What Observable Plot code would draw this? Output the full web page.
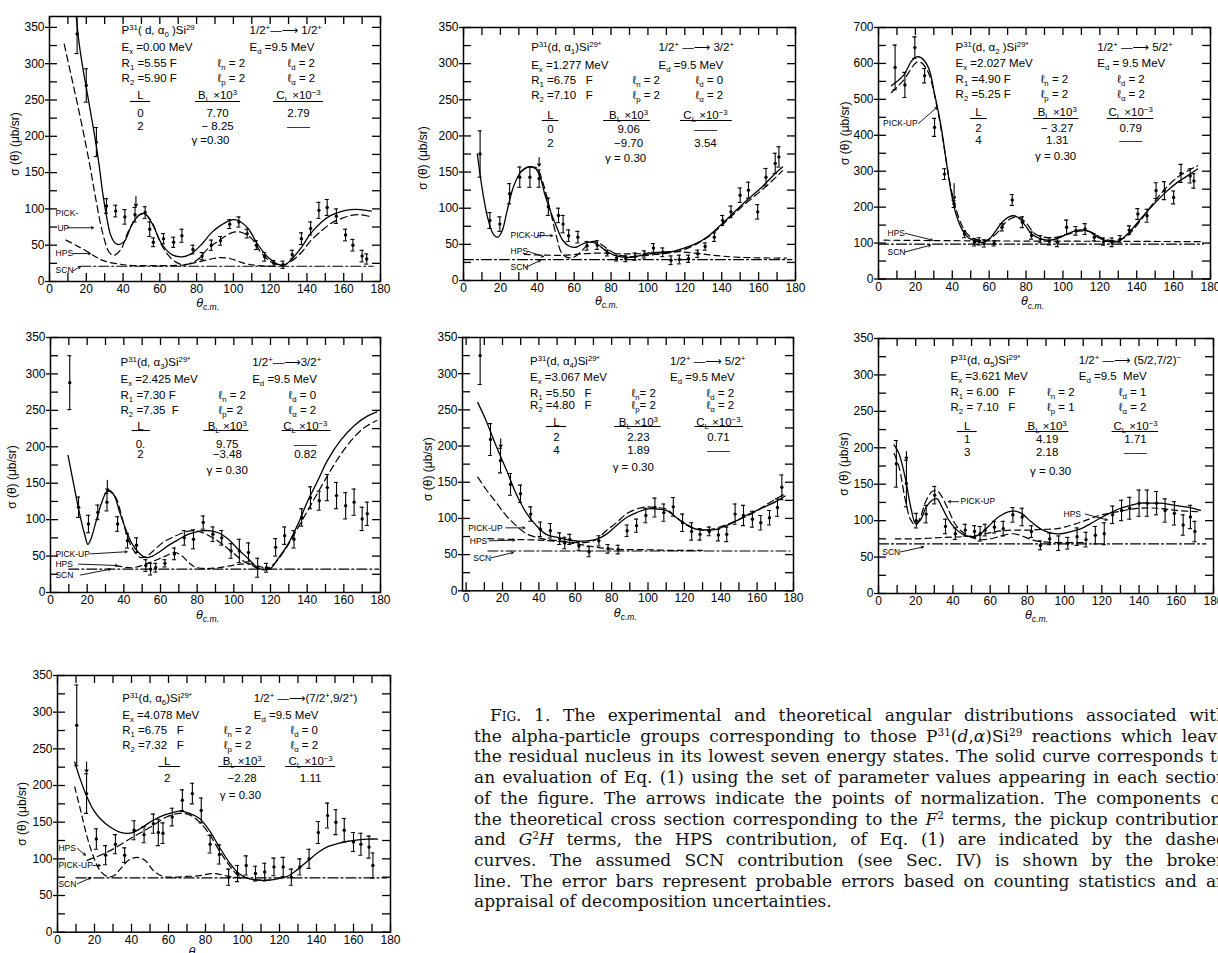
<!DOCTYPE html>
<html><head><meta charset="utf-8">
<script src="https://cdn.jsdelivr.net/npm/d3@7"></script>
<script src="https://cdn.jsdelivr.net/npm/@observablehq/plot@0.6"></script>
<style>
html,body{margin:0;padding:0;background:#fff;}
#page{position:relative;width:1218px;height:953px;overflow:hidden;background:#fff;}
#caption{position:absolute;left:474px;top:705px;width:753px;font-family:"DejaVu Serif",serif;font-size:17px;line-height:20.7px;color:#111;}
#caption div{white-space:nowrap;text-align:justify;text-align-last:justify;}
#caption div.last{text-align-last:left;}
#caption sup{font-size:0.62em;line-height:0;vertical-align:0.55em;}
#caption .sc{font-variant:small-caps;}
</style></head><body>
<div id="page">
<div id="caption">
<div style="text-indent:16px"><span class="sc">Fig.</span> 1. The experimental and theoretical angular distributions associated with</div>
<div>the alpha-particle groups corresponding to those P<sup>31</sup>(<i>d</i>,<i>α</i>)Si<sup>29</sup> reactions which leave</div>
<div>the residual nucleus in its lowest seven energy states. The solid curve corresponds to</div>
<div>an evaluation of Eq. (1) using the set of parameter values appearing in each section</div>
<div>of the figure. The arrows indicate the points of normalization. The components of</div>
<div>the theoretical cross section corresponding to the <i>F</i><sup>2</sup> terms, the pickup contribution,</div>
<div>and <i>G</i><sup>2</sup><i>H</i> terms, the HPS contribution, of Eq. (1) are indicated by the dashed</div>
<div>curves. The assumed SCN contribution (see Sec. IV) is shown by the broken</div>
<div>line. The error bars represent probable errors based on counting statistics and an</div>
<div class="last">appraisal of decomposition uncertainties.</div>
</div>
</div>
<script>
// ---------- tick values ----------
const xTicks = d3.range(0, 181, 10);
const xTickLabels = d3.range(0, 181, 20);

// ---------- panel 1 : alpha0 ----------
const p1Points = [[15,341,27],[20,270,23],[25.5,192,20],[31,104,10],[36,97,8],[41,89,10],[46.5,92,10],[52,95,8],[54.5,72,10],[56.5,54,6],[62,59,7],[67.5,54,7],[72,63,9],[78,44,6],[83,35,5],[88,50,7],[93,56,6],[98,79,6],[103,82,7],[107.5,66,6],[112.5,50,6],[117,34,6],[122,25,4],[127,23,5],[132,37,6],[137,59,8],[142,73,9],[146.5,98,11],[151,102,11],[156,90,10],[161,64,8],[165,50,8],[170,35,8],[172.5,31,7]];
const p1Solid = [[14,380],[16,330],[18,296],[20,267],[22,238],[25,194],[27,160],[29,121],[31,90],[33,66],[35,55],[37,51],[39,52],[41,56],[45,79],[49.5,93],[52,93],[56,79],[61,52],[66.5,37],[72,34],[77,38],[83,52],[88,67],[93.5,78],[99,85],[102.5,84],[108,73],[113,52],[119,33],[124,24],[128,23],[131,29],[137,47],[142,66],[148,82],[153,91],[158,96],[164,99],[169,99],[175,97]];
const p1Pickup = [[8,327],[12,281],[16,235],[21.5,166],[25,116],[29,66],[32.5,40],[35,36],[39,45],[43,70],[48.5,91],[52,93],[56,80],[61,50],[66.5,31],[71,24],[75.5,24],[81,31],[86,45],[92,56],[99,67],[104,68],[110,59],[115,40],[120.5,27],[126,22],[131,27],[137,40],[142,56],[148,70],[153,80],[158,86],[164,91],[169,92],[175,89]];
const p1Hps = [[9,57],[15,49],[20,42],[25,34],[30,28],[38,24],[45,22],[55,22],[65,22],[74,23],[81,27],[88,31],[93,33],[99,31],[106,25],[113,22],[122,21]];
const p1Scn = [[17,21],[176,21]];
const p1Norm = [[47,117,103]];
const p1Text = {title:"P^{31}( d, α_{0} )Si^{29}", trans:"1/2^{+}—⟶ 1/2^{+}", ex:"E_{x} =0.00 MeV", ed:"E_{d} =9.5 MeV", r1:"R_{1} =5.55 F", r2:"R_{2} =5.90 F", ln:"ℓ_{n} = 2", lp:"ℓ_{p} = 2", ld:"ℓ_{d} = 2", la:"ℓ_{α} = 2", L:["0","2"], B:["7.70","− 8.25"], C:["2.79","——"], g:"γ =0.30"};

// ---------- panel 2 : alpha1 ----------
const p2Points = [[9,175,32],[14.3,83,11],[19.7,78,10],[25,120,14],[30.5,143,14],[36,143,14],[41,141,12],[46,102,12],[51.5,90,10],[54,78,12],[57,62,8],[62,60,8],[67,48,6],[72.5,49,6],[78,38,4],[83,31,4],[88,30,4],[93,33,5],[98,36,5],[103,45,6],[108,39,6],[112.5,28,6],[117,29,6],[122,30,5],[127,37,5],[131,47,5],[136,60,6],[140.5,83,7],[145,95,8],[150,118,10],[154.5,125,11],[159.5,95,10],[164,143,12],[169,162,14],[171,171,14]];
const p2Solid = [[7.5,175],[10,129],[13,88],[16,65],[18.6,60],[21,69],[23.7,97],[27,129],[31,150],[35,157],[39,155],[41.6,143],[44,120],[47,97],[50.5,74],[54,55],[57.7,47],[61,46],[65,51],[68.5,53],[72,51],[75.7,44],[79,38],[84.6,33],[90,32],[97,35],[104,38],[111.5,39],[118.7,44],[126,51],[133,62],[140,78],[147,95],[154.5,113],[161.7,129],[169,148],[173,157]];
const p2Pickup = [[31,150],[35,157],[38,157],[40,155],[43,136],[47,97],[50.5,60],[53,39],[56,32],[59.5,32],[63,38],[66.7,48],[70,54],[74,51],[79,42],[84.6,35],[90,33],[97,34],[104,36],[111.5,38],[118.7,42],[126,50],[133,61],[140,76],[147,93],[154.5,110],[161.7,125],[169,142],[173,152]];
const p2Hps = [[33,36],[45,35],[55,35],[65,37],[75,38],[85,37],[95,37],[105,39],[115,40],[125,38],[135,35],[150,32],[175,31]];
const p2Scn = [[0,29],[178,29]];
const p2Norm = [[41,170,158]];
const p2Text = {title:"P^{31}(d, α_{1})Si^{29*}", trans:"1/2^{+} —⟶ 3/2^{+}", ex:"E_{x} =1.277 MeV", ed:"E_{d} =9.5 MeV", r1:"R_{1} =6.75   F", r2:"R_{2} =7.10   F", ln:"ℓ_{n} = 2", lp:"ℓ_{p} = 2", ld:"ℓ_{d} = 0", la:"ℓ_{α} = 2", L:["0","2"], B:["9.06","−9.70"], C:["——","3.54"], g:"γ = 0.30"};

// ---------- panel 3 : alpha2 ----------
const p3Points = [[9,589,62],[14.3,540,35],[19.7,644,30],[25,566,20],[30.4,422,25],[35.8,292,15],[41,209,10],[46.6,125,10],[52,102,10],[54.6,105,10],[57.3,99,10],[62.7,99,7],[67,144,10],[72.5,220,15],[78,158,15],[83,121,10],[87.8,111,10],[92.6,105,10],[97,102,12],[102,144,20],[107,134,12],[112,139,15],[117,116,10],[122,104,10],[126.6,102,12],[131,111,10],[136,136,12],[140.6,181,15],[145.6,176,18],[150.5,246,22],[155,246,25],[160,227,18],[164,294,25],[169,287,20],[171,273,20]];
const p3Solid = [[7,538],[13.4,566],[18,607],[20.6,618],[23,616],[27,589],[30.4,515],[34,422],[36.7,329],[39.4,241],[42,181],[45.7,134],[49,114],[53,105],[56.4,102],[60,111],[63.6,134],[67,158],[70.7,173],[73.4,176],[76,170],[79.7,148],[83,125],[86.9,114],[92,108],[97.6,114],[103,127],[108,136],[113.7,134],[119,116],[124.5,105],[130,105],[135,125],[140.6,158],[146,190],[151,218],[156.7,246],[162,269],[167.5,287],[173,306]];
const p3Pickup = [[7,519],[13.4,552],[20.6,603],[23,603],[27,575],[31.4,487],[35,385],[38.5,274],[42,195],[45.7,144],[49,121],[52.6,111],[58,107],[63.6,125],[69,158],[72.5,170],[76,172],[79.7,158],[85,125],[90.5,116],[96,116],[103,125],[110,134],[115.6,130],[121,114],[126.6,107],[133.8,116],[140.6,153],[151.4,227],[162,283],[173,315]];
const p3Hps = [[3,108],[60,106],[120,105],[175,104]];
const p3Scn = [[0,97],[176,97]];
const p3Norm = [[41,266,222]];
const p3Text = {title:"P^{31}(d, α_{2} )Si^{29*}", trans:"1/2^{+} —⟶ 5/2^{+}", ex:"E_{x} =2.027 MeV", ed:"E_{d} = 9.5 MeV", r1:"R_{1} =4.90 F", r2:"R_{2} =5.25 F", ln:"ℓ_{n} = 2", lp:"ℓ_{p} = 2", ld:"ℓ_{d} = 2", la:"ℓ_{α} = 2", L:["2","4"], B:["− 3.27","1.31"], C:["0.79","——"], g:"γ = 0.30"};

// ---------- panel 4 : alpha3 ----------
const p4Points = [[10.5,288,37],[15.3,117,14],[20.7,94,12],[25.8,110,10],[30.8,124,12],[36.6,94,10],[42,71,10],[46.9,65,10],[52,37,8],[54.6,32,8],[57.4,34,6],[62.4,40,5],[67.6,53,8],[73,75,10],[78,73,13],[83.3,96,9],[88.6,80,10],[93.4,75,10],[98.5,57,10],[103,57,16],[108,55,13],[113,34,13],[117.8,34,6],[122.8,62,12],[127.7,78,12],[132.8,73,12],[137,103,12],[141.8,130,15],[146.6,126,13],[151,144,18],[156,133,18],[161,119,18],[165.6,124,18],[170,101,16],[172.8,108,16]];
const p4Solid = [[9.6,188],[12.3,153],[15.9,108],[18.6,80],[20.4,66],[22,73],[24.9,98],[27.6,121],[30.3,137],[32,140],[34.8,133],[37.5,112],[41,87],[44.7,66],[48,55],[52,48],[55.6,50],[59,55],[64.6,65],[70,73],[75.4,80],[80.8,84],[86,85],[91.6,82],[97,73],[102.5,59],[108,46],[113,34],[117,31],[120.5,34],[124,46],[129.5,66],[135,94],[140,124],[145.7,153],[151,181],[158,208],[165.6,229],[172.8,242],[178,248]];
const p4Pickup = [[30.3,137],[32,139],[35.7,130],[38.5,108],[42,76],[45.6,57],[49,48],[52.6,50],[56,57],[61.5,69],[66.9,76],[72.3,82],[77.6,85],[83,82],[88.5,75],[93.9,66],[99.3,55],[104.7,44],[110,37],[113.6,33],[117.2,32],[122.6,41],[128,59],[135,89],[142.2,121],[149.4,153],[156.6,183],[163.8,208],[171,226],[178,236]];
const p4Hps = [[35.7,37],[44.7,34],[52,39],[57,44],[62.8,50],[67.6,55],[71.8,50],[75.4,41],[79,35],[84.4,33],[91.6,34],[98.8,37],[104,39],[109.7,39],[115,35],[120.5,32]];
const p4Scn = [[10,32],[179,32]];
const p4Norm = [[31,154,139]];
const p4Text = {title:"P^{31}(d, α_{3})Si^{29*}", trans:"1/2^{+}—⟶3/2^{+}", ex:"E_{x} =2.425 MeV", ed:"E_{d} =9.5 MeV", r1:"R_{1} =7.30 F", r2:"R_{2} =7.35  F", ln:"ℓ_{n} = 2", lp:"ℓ_{p}= 2", ld:"ℓ_{d} = 0", la:"ℓ_{α} = 2", L:["0.","2"], B:["9.75","−3.48"], C:["——","0.82"], g:"γ = 0.30"};

// ---------- panel 5 : alpha4 ----------
const p5Points = [[7.7,325,40],[13.4,209,22],[18.9,180,17],[24.4,147,15],[29.9,134,12],[35.5,106,10],[40.8,85,10],[46.3,83,10],[51.4,72,8],[54.2,66,8],[57,71,7],[62,62,6],[67.6,54,7],[73,69,7],[78,58,6],[83.6,57,6],[88.5,83,8],[93.7,90,9],[98.8,104,10],[103.8,115,13],[108.7,108,12],[113.9,116,13],[119,94,12],[124,82,12],[128.6,78,8],[133.7,82,6],[138.7,77,8],[143.3,78,10],[147.9,106,14],[152.5,104,14],[157.4,99,11],[162,94,10],[166.8,101,10],[171.2,115,12],[173.6,143,17]];
const p5Solid = [[6.4,260],[11,235],[16.5,200],[22,168],[27.5,134],[33,108],[38.6,90],[44,78],[49.6,74],[55,71],[60.6,69],[66,69],[71.6,71],[77,78],[82.6,90],[88,101],[93.7,108],[99,113],[104.7,113],[110,111],[115.7,101],[121,92],[126.7,85],[132,84],[137.8,85],[143,90],[148.8,97],[154,104],[159.8,111],[165,117],[170.8,124],[175.4,131]];
const p5Pickup = [[6.4,157],[11,140],[16.5,122],[22,104],[27.5,90],[33,79],[38.6,74],[44,71],[51.4,69],[58.8,67],[66,67],[71.6,71],[77,83],[82.6,94],[88,106],[93.7,113],[99,116],[104.7,115],[110,113],[115.7,101],[121,91],[126.7,85],[132,84],[137.8,87],[143,91],[148.8,97],[158,108],[167,122],[175.4,134]];
const p5Hps = [[12,72],[25,71],[40,70],[55,67],[65,63],[75,59],[85,57],[95,57],[110,56],[130,56]];
const p5Scn = [[12,55],[178,55]];
const p5Norm = [[19,210,198]];
const p5Text = {title:"P^{31}(d, α_{4})Si^{29*}", trans:"1/2^{+} —⟶ 5/2^{+}", ex:"E_{x} =3.067 MeV", ed:"E_{d} =9.5 MeV", r1:"R_{1} =5.50   F", r2:"R_{2} =4.80   F", ln:"ℓ_{n}= 2", lp:"ℓ_{p}= 2", ld:"ℓ_{d} = 2", la:"ℓ_{α} = 2", L:["2","4"], B:["2.23","1.89"], C:["0.71","——"], g:"γ = 0.30"};

// ---------- panel 6 : alpha5 ----------
const p6Points = [[9.6,178,32],[15,151,32],[20.3,100,10],[25.6,109,12],[30.2,135,12],[36,92,10],[41.3,82,8],[46.6,87,8],[51.6,85,8],[54.6,82,10],[57.3,87,8],[62.3,91,8],[67,89,10],[72.2,108,10],[77.2,105,12],[82.2,85,8],[87,66,6],[92,75,8],[96.8,69,10],[101.7,69,8],[106.7,78,12],[111.5,74,10],[116.5,80,12],[121.3,82,15],[125.8,108,12],[130.6,114,14],[135,117,15],[140,124,18],[144.4,124,18],[149.4,124,16],[154,114,16],[159,110,16],[163.7,94,14],[167.6,105,16],[170,85,14]];
const p6Solid = [[8.4,204],[11,192],[14.6,156],[17.3,119],[20,96],[22.6,101],[25.3,117],[28.8,128],[31.5,130],[34,119],[37.7,101],[41.3,89],[44.8,82],[49.3,78],[53.7,80],[59,92],[64.4,105],[69.7,112],[73.3,113],[76.8,110],[82.2,98],[87.5,88],[92.8,83],[98,82],[103.5,85],[108.9,89],[114,96],[119.5,104],[124.9,111],[130,117],[135.5,121],[140.9,124],[146,124],[151.5,124],[157,122],[162,120],[167.5,118],[173,114]];
const p6Pickup = [[8.4,192],[11,174],[14.6,126],[17.3,101],[20,94],[22.6,105],[25.3,126],[28.8,140],[31.5,141],[34,133],[37.7,114],[41.3,95],[44.8,85],[49,78],[54,74],[60,75],[66,79],[72,82],[77,79],[82,74],[88,71],[95,70],[110,70]];
const p6Hps = [[9,75],[20,75],[35,77],[45,78],[54,80],[63,85],[72,87],[80,87],[88,88],[96,89],[104,94],[112,101],[120,108],[130,113],[140,117],[150,117],[160,114],[173,112]];
const p6Scn = [[0,68],[176,68]];
const p6Norm = [[15,195,184]];
const p6Text = {title:"P^{31}(d, α_{5})Si^{29*}", trans:"1/2^{+} —⟶ (5/2,7/2)^{−}", ex:"E_{x} =3.621 MeV", ed:"E_{d} =9.5  MeV", r1:"R_{1} = 6.00   F", r2:"R_{2} = 7.10   F", ln:"ℓ_{n} = 2", lp:"ℓ_{p} = 1", ld:"ℓ_{d} = 1", la:"ℓ_{α} = 2", L:["1","3"], B:["4.19","2.18"], C:["1.71","——"], g:"γ = 0.30"};

// ---------- panel 7 : alpha6 ----------
const p7Points = [[10.4,282,55],[15.7,189,27],[21,127,14],[26,105,13],[31.3,120,13],[36.3,105,10],[41.4,139,13],[46.8,133,11],[51.8,148,13],[54.5,136,18],[57,135,14],[62,157,12],[67.5,180,14],[72.9,189,14],[77.7,166,17],[82.5,120,12],[87.5,106,13],[92.5,75,11],[97.3,80,11],[102,91,13],[107,80,10],[112,82,12],[117,89,12],[122,89,13],[126.4,75,11],[131,89,11],[136,100,13],[141,136,15],[146,159,17],[150.5,150,17],[155,139,16],[160,123,13],[164,120,15],[168.4,116,15],[170.5,91,17]];
const p7Solid = [[9.3,232],[12.5,207],[16,184],[19.6,166],[23,155],[28.6,143],[34,136],[39.3,135],[44.6,141],[50,150],[55,157],[60.7,162],[66,165],[71.4,162],[76.8,155],[82,139],[87.5,116],[92.9,95],[98,80],[103.6,73],[109,71],[114,71],[119.6,73],[125,77],[130,86],[135.7,98],[141,109],[146.4,117],[151.8,121],[157,124],[162.5,126],[167.9,127],[173,127]];
const p7Pickup = [[16,98],[26.8,109],[41,130],[50,143],[58.9,157],[66,162],[71.4,160],[76.8,150],[82,134],[87.5,111],[92.9,91],[98,77],[103.6,73],[109,71],[115,71]];
const p7Hps = [[9.3,198],[12.5,166],[16,130],[19.6,102],[23,84],[26.8,76],[30.4,77],[33.9,86],[38.4,98],[42.9,102],[47.3,98],[51.8,84],[57.1,76],[62.5,75],[69.6,76],[76.8,77],[83.9,80],[89.3,78],[94.6,75],[100,74]];
const p7Scn = [[10,74],[178,74]];
const p7Norm = [[15.7,232,218]];
const p7Text = {title:"P^{31}(d, α_{6})Si^{29*}", trans:"1/2^{+} —⟶(7/2^{+},9/2^{+})", ex:"E_{x} =4.078 MeV", ed:"E_{d} =9.5 MeV", r1:"R_{1} =6.75   F", r2:"R_{2} =7.32   F", ln:"ℓ_{n} = 2", lp:"ℓ_{p} = 2", ld:"ℓ_{d} = 0", la:"ℓ_{α} = 2", L:["2"], B:["−2.28"], C:["1.11"], g:"γ = 0.30"};

// ---------- layout of the seven sections ----------
const layouts = [
 {left:49, right:380, top:16, bottom:281, ymax:365, tickStep:25, labelStep:50,
  cols:{title:39.2, trans:108.8, ln:91.4, ld:129.4, L:49.5, B:91.4, C:135.4, g:87.5},
  rows:[14,31,47,62,79,85,97,110,124], ul:[[44,55],[79.4,103.9],[121.8,149]],
  yt:[-34,-5], xt:[86,21],
  labels:[[3.3,94,"PICK-"],[4.3,74,"UP"],[3.3,38.5,"HPS"],[3.3,15,"SCN"]],
  leaders:[[9.8,74,23.9,74],[13,38.5,22.3,38.5],[13,15,16.9,20.6]]},
 {left:463, right:795, top:27, bottom:280, ymax:350, tickStep:25, labelStep:50,
  cols:{title:36.7, trans:105.7, ln:91.6, ld:125.8, L:47.2, B:89.5, C:131.2, g:87.9},
  rows:[20,38,53,68,88,93,102,116,131], ul:[[42.7,51.7],[76,101.4],[117.7,145.7]],
  yt:[-40,4], xt:[77.5,20],
  labels:[[25.5,62,"PICK-UP"],[25.5,40.5,"HPS"],[25.5,18,"SCN"]],
  leaders:[[40.1,62,48.3,62],[34.7,40.5,43.4,33],[33.6,18,41.8,28]]},
 {left:878, right:1210, top:27, bottom:278.5, ymax:700, tickStep:50, labelStep:100,
  cols:{title:41.8, trans:118.6, ln:87.9, ld:129.4, L:54.2, B:96.9, C:136.7, g:96},
  rows:[20,36,52,67,85,91,101,113,129], ul:[[49.9,58.9],[84.2,108.6],[124,149.3]],
  yt:[-33,-20], xt:[83.5,22],
  labels:[[2.5,433,"PICK-UP"],[4.9,127,"HPS"],[4.9,75,"SCN"]],
  leaders:[[21.7,433,31.8,478],[14.6,127,29.3,108],[14.1,75,28.2,94]]},
 {left:50, right:380, top:336.7, bottom:591.7, ymax:350, tickStep:25, labelStep:50,
  cols:{title:38.2, trans:110, ln:91.6, ld:129.8, L:49.1, B:96.4, C:139, g:96.4},
  rows:[25,41.6,58,72.6,89,93,107,117,133], ul:[[44.5,54.5],[83.6,108.2],[126.4,153]],
  yt:[-38,12], xt:[85.6,22],
  labels:[[2.7,53,"PICK-UP"],[2.7,39,"HPS"],[2.7,24,"SCN"]],
  leaders:[[21.8,53,41.8,56],[15.3,39,36.6,37],[16.4,24,32.7,32]]},
 {left:462, right:793, top:336.7, bottom:590, ymax:350, xmin:-2, tickStep:25, labelStep:50,
  cols:{title:35.1, trans:112.1, ln:90.9, ld:132.2, L:49.7, B:94.7, C:138.7, g:91.9},
  rows:[24,40,56,68,85,89,100,113,130], ul:[[44.2,55.2],[81.5,107.2],[125.8,152.4]],
  yt:[-34,5], xt:[87.5,22],
  labels:[[1.1,87,"PICK-UP"],[2,69,"HPS"],[3.9,45.5,"SCN"]],
  leaders:[[21.8,87,32.3,87],[12.7,69,26.8,70],[13.8,45.5,25.9,53]]},
 {left:878, right:1213, top:338.3, bottom:593.3, ymax:350, tickStep:25, labelStep:50,
  cols:{title:38.7, trans:107.6, ln:90.6, ld:129.1, L:47.6, B:90.6, C:138.1, g:92.5},
  rows:[22,38,54,69,88,93,101,114,133], ul:[[42.3,53],[79,102.3],[125.5,150.5]],
  yt:[-34,-2], xt:[84.9,21],
  labels:[[44.1,126,"PICK-UP"],[99.4,109,"HPS"],[2,57,"SCN"]],
  leaders:[[43,126,37.6,126],[111.2,109,122.9,101],[11.8,57,24.2,64]]},
 {left:57, right:390, top:675, bottom:931.7, ymax:350, tickStep:25, labelStep:50,
  cols:{title:35, trans:106.1, ln:89.9, ld:125.9, L:59.3, B:99.8, C:136.8, g:98.9},
  rows:[23,40,55,70,86,91,103,116,120], ul:[[54.8,66.5],[87.2,112.4],[123.2,150.3]],
  yt:[-35,10], xt:[77,20],
  labels:[[0.5,114,"HPS"],[0.5,91,"PICK-UP"],[0.5,66,"SCN"]],
  leaders:[[10.8,114,15.1,105],[19.3,91,23.2,91],[10.8,66,17.8,74]]}
];
const series = [
 [p1Points,p1Solid,p1Pickup,p1Hps,p1Scn,p1Norm,p1Text],
 [p2Points,p2Solid,p2Pickup,p2Hps,p2Scn,p2Norm,p2Text],
 [p3Points,p3Solid,p3Pickup,p3Hps,p3Scn,p3Norm,p3Text],
 [p4Points,p4Solid,p4Pickup,p4Hps,p4Scn,p4Norm,p4Text],
 [p5Points,p5Solid,p5Pickup,p5Hps,p5Scn,p5Norm,p5Text],
 [p6Points,p6Solid,p6Pickup,p6Hps,p6Scn,p6Norm,p6Text],
 [p7Points,p7Solid,p7Pickup,p7Hps,p7Scn,p7Norm,p7Text]
];

const FONT = "'Liberation Sans', 'DejaVu Sans', sans-serif";

function buildPanel(P, S) {
  const [pts, solid, pickup, hps, scn, norm, T] = S;
  const mL = 52, mR = 8, mT = 4, mB = 34;
  const xmin = P.xmin ?? 0;
  const w = P.right - P.left, h = P.bottom - P.top;
  const k = h / P.ymax;
  const yAt = dy => P.ymax - dy / k;
  const R = P.rows, C = P.cols;
  const yTicks = d3.range(0, P.ymax + 0.01, P.tickStep);
  const yLabels = d3.range(0, P.ymax + 0.01, P.labelStep);
  const starts = [
    [C.title, R[0], T.title], [C.trans, R[0], T.trans],
    [C.title, R[1], T.ex], [C.trans, R[1], T.ed],
    [C.title, R[2], T.r1], [C.ln, R[2], T.ln], [C.ld, R[2], T.ld],
    [C.title, R[3], T.r2], [C.ln, R[3], T.lp], [C.ld, R[3], T.la]
  ].map(([x, dy, t]) => ({x, y: yAt(dy), t}));
  const mids = [[C.L, R[4], "L"], [C.B, R[4], "B_{L} ×10^{3}"], [C.C, R[4], "C_{L} ×10^{−3}"], [C.g, R[8], T.g]];
  T.L.forEach((v, i) => mids.push([C.L, R[6 + i], v]));
  T.B.forEach((v, i) => mids.push([C.B, R[6 + i], v]));
  T.C.forEach((v, i) => mids.push([C.C, R[6 + i], v]));
  const midD = mids.map(([x, dy, t]) => ({x, y: yAt(dy), t}));
  const ul = P.ul.map(([a, b]) => ({x1: a, x2: b, y: yAt(R[5])}));
  const ln = (data, o) => Plot.line(data, {x: d => d[0], y: d => d[1], curve: "catmull-rom", stroke: "black", clip: true, ...o});
  const capW = 1.1;
  const svg = Plot.plot({
    width: w + mL + mR, height: h + mT + mB,
    marginLeft: mL, marginRight: mR, marginTop: mT, marginBottom: mB,
    x: {domain: [xmin, 180]}, y: {domain: [0, P.ymax]},
    style: {fontFamily: FONT, fontSize: "12px", color: "black", background: "transparent", overflow: "visible"},
    marks: [
      Plot.frame({stroke: "black", strokeWidth: 1.5}),
      Plot.tickX(xTicks, {x: d => d, insetTop: h - 8, strokeWidth: 1.3}),
      Plot.tickX(xTicks, {x: d => d, insetBottom: h - 8, strokeWidth: 1.3}),
      Plot.tickY(yTicks, {y: d => d, insetRight: w - 8, strokeWidth: 1.3}),
      Plot.tickY(yTicks, {y: d => d, insetLeft: w - 8, strokeWidth: 1.3}),
      Plot.axisX({ticks: xTickLabels, tickSize: 0, tickPadding: 3, label: null, fontSize: 12}),
      Plot.axisY({ticks: yLabels, tickSize: 4, tickPadding: 1, label: null, fontSize: 12, strokeWidth: 1.3}),
      Plot.text(["σ (θ) (μb/sr)"], {text: d => d, frameAnchor: "left", rotate: -90, textAnchor: "middle", lineAnchor: "middle", dx: P.yt[0], dy: P.yt[1], fontSize: 12}),
      Plot.text([P.xt[0]], {x: d => d, text: () => "θ_{c.m.}", frameAnchor: "bottom", textAnchor: "middle", lineAnchor: "middle", dy: P.xt[1], fontSize: 12.5, fontStyle: "italic"}),
      ln(scn, {strokeWidth: 1.2, strokeDasharray: "10,3,2,3"}),
      ln(hps, {strokeWidth: 1.2, strokeDasharray: "6,4"}),
      ln(pickup, {strokeWidth: 1.2, strokeDasharray: "7,4"}),
      ln(solid, {strokeWidth: 1.3}),
      Plot.ruleX(pts, {x: d => d[0], y1: d => d[1] - d[2], y2: d => d[1] + d[2], strokeWidth: 1.1, clip: true}),
      Plot.ruleY(pts, {y: d => d[1] - d[2], x1: d => d[0] - capW, x2: d => d[0] + capW, strokeWidth: 1.1, clip: true}),
      Plot.ruleY(pts, {y: d => d[1] + d[2], x1: d => d[0] - capW, x2: d => d[0] + capW, strokeWidth: 1.1, clip: true}),
      Plot.dot(pts, {x: d => d[0], y: d => d[1], r: 1.7, fill: "black", clip: true}),
      Plot.arrow(norm, {x: d => d[0], y1: d => d[1], y2: d => d[2], headLength: 4, strokeWidth: 1.1}),
      Plot.text(P.labels, {x: d => d[0], y: d => d[1], text: d => d[2], textAnchor: "start", lineAnchor: "middle", fontSize: 8.5}),
      Plot.arrow(P.leaders, {x1: d => d[0], y1: d => d[1], x2: d => d[2], y2: d => d[3], headLength: 4, strokeWidth: 0.9}),
      Plot.text(starts, {x: "x", y: "y", text: "t", textAnchor: "start", lineAnchor: "middle", fontSize: 11.5}),
      Plot.text(midD, {x: "x", y: "y", text: "t", textAnchor: "middle", lineAnchor: "middle", fontSize: 11.5}),
      Plot.ruleY(ul, {y: "y", x1: "x1", x2: "x2", strokeWidth: 1.1})
    ]
  });
  svg.style.position = "absolute";
  svg.style.left = (P.left - mL) + "px";
  svg.style.top = (P.top - mT) + "px";
  return svg;
}

function rich(svg) {
  d3.select(svg).selectAll("text").each(function () {
    const el = this;
    const t = el.textContent;
    if (!/[\^_]\{/.test(t)) return;
    const base = parseFloat(getComputedStyle(el).fontSize) || 12;
    while (el.firstChild) el.removeChild(el.firstChild);
    const re = /([\^_])\{([^}]*)\}|([^\^_]+)/g;
    let m, shift = 0;
    while ((m = re.exec(t))) {
      const ts = document.createElementNS("http://www.w3.org/2000/svg", "tspan");
      let target;
      if (m[1]) {
        target = m[1] === "^" ? -0.38 * base : 0.28 * base;
        ts.setAttribute("font-size", (0.68 * base).toFixed(1));
        ts.textContent = m[2];
      } else {
        target = 0;
        ts.textContent = m[3];
      }
      const d = target - shift;
      if (d) ts.setAttribute("dy", d.toFixed(2));
      shift = target;
      el.appendChild(ts);
    }
  });
}

const page = document.getElementById("page");
layouts.forEach((P, i) => {
  const svg = buildPanel(P, series[i]);
  page.appendChild(svg);
  rich(svg);
});
</script>
</body></html>
